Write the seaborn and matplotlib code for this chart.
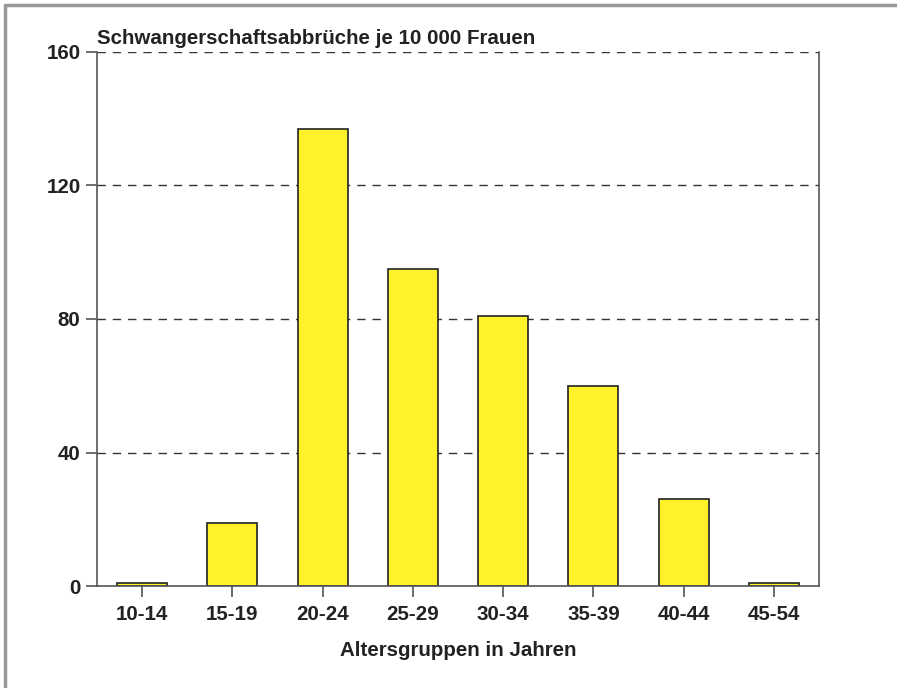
import matplotlib
matplotlib.use("Agg")
import matplotlib.pyplot as plt
import seaborn as sns
import pandas as pd
from matplotlib.lines import Line2D

categories = ["10-14", "15-19", "20-24", "25-29", "30-34", "35-39", "40-44", "45-54"]
values = [1, 19, 137, 95, 81, 60, 26, 1]
yticks = [0, 40, 80, 120, 160]
title = "Schwangerschaftsabbrüche je 10 000 Frauen"
xlabel = "Altersgruppen in Jahren"

sns.set_style("white")
plt.rcParams['font.family'] = ['Liberation Sans', 'DejaVu Sans']

df = pd.DataFrame({"Altersgruppe": categories, "Wert": values})

fs = 14.8
fig = plt.figure(figsize=(8.97, 6.88), dpi=100)
ax = fig.add_axes([97/897, 1-586/688, (819-97)/897, (586-52)/688])

for y in yticks[1:]:
    ax.axhline(y, color="#333333", lw=1, ls=(0, (6, 5)), zorder=0)

sns.barplot(data=df, x="Altersgruppe", y="Wert", color="#FFF22A", width=0.555,
            edgecolor="#222222", linewidth=1.2, saturation=1, ax=ax, zorder=2)

ax.set_xlim(-0.5, 7.5)
ax.set_ylim(0, 160)
ax.set_yticks(yticks)
ax.set_yticklabels([str(v) for v in yticks], fontsize=fs, fontweight="bold", color="#222222")
ax.set_xticks(range(len(categories)))
ax.set_xticklabels(categories, fontsize=fs, fontweight="bold", color="#222222")
ax.tick_params(axis="both", bottom=True, left=True, length=7.8, width=1.2,
               color="#555555", direction="out")
ax.tick_params(axis="y", pad=4)
ax.tick_params(axis="x", pad=6)
ax.set_ylabel("")
ax.set_xlabel(xlabel, fontsize=fs, fontweight="bold", color="#222222", labelpad=12)

for s in ["left", "right", "bottom"]:
    ax.spines[s].set_visible(True)
    ax.spines[s].set_color("#555555")
    ax.spines[s].set_linewidth(1.2)
ax.spines["top"].set_visible(False)

ax.text(0, 1.008, title, transform=ax.transAxes, fontsize=fs, fontweight="bold",
        color="#222222", ha="left", va="bottom")

# figure border (left and top)
fig.add_artist(Line2D([5/897, 5/897], [0, 1-5/688], transform=fig.transFigure, color="#999999", lw=2.5))
fig.add_artist(Line2D([5/897, 1], [1-5/688, 1-5/688], transform=fig.transFigure, color="#999999", lw=2.5))

fig.savefig("out.png", dpi=100)
